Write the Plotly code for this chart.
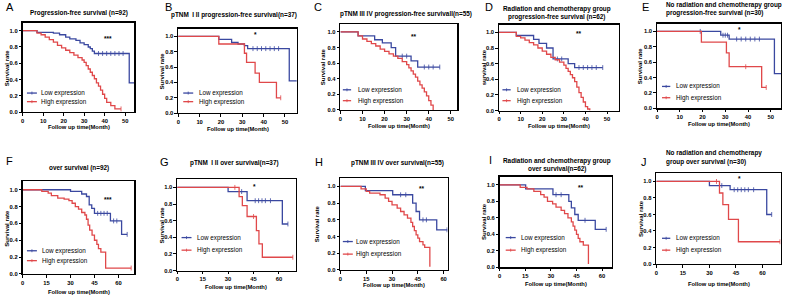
import plotly.graph_objects as go

W, H = 785, 299
BLUE = "#3a48a0"
RED = "#e0484a"
FONT = "Liberation Sans, Arial, sans-serif"

# ---------------- data ----------------
A_low_t = [0, 7, 15, 18, 21, 23, 26, 28, 30, 32, 33, 34, 35, 52, 55]
A_low_s = [1.0, 0.98, 0.97, 0.95, 0.92, 0.90, 0.88, 0.85, 0.83, 0.80, 0.78, 0.75, 0.72, 0.36, 0.36]
A_low_c = [37, 39, 41, 43, 45, 47, 49]
A_high_t = [0, 7, 9, 11, 13, 15, 17, 19, 21, 23, 25, 27, 29, 30, 31, 32, 33, 34, 35, 36, 37, 38, 39, 40, 41, 43, 45, 48]
A_high_s = [1.0, 0.97, 0.95, 0.92, 0.89, 0.86, 0.82, 0.79, 0.76, 0.73, 0.70, 0.67, 0.64, 0.61, 0.57, 0.53, 0.49, 0.45, 0.41, 0.36, 0.32, 0.27, 0.22, 0.17, 0.12, 0.08, 0.04, 0.04]
A_high_c = [48]

B_low_t = [0, 19, 25, 28, 31, 32.5, 52, 55.5]
B_low_s = [1.0, 0.96, 0.92, 0.90, 0.88, 0.84, 0.42, 0.42]
B_low_c = [35, 37, 39, 41, 43, 45, 47]
B_high_t = [0, 19, 31, 32, 36, 38, 46, 48]
B_high_s = [1.0, 0.90, 0.78, 0.66, 0.52, 0.40, 0.20, 0.20]
B_high_c = [48]

C_low_t = [0, 8, 15.5, 19, 23, 25, 32, 35, 45]
C_low_s = [1.0, 0.95, 0.90, 0.86, 0.80, 0.69, 0.63, 0.55, 0.55]
C_low_c = [28, 30, 38, 40, 42, 45]
C_high_t = [0, 8, 10, 12, 14, 16, 18, 20, 22, 24, 26, 28, 30, 31, 32, 33, 34, 35, 36, 37, 38, 39, 40, 41, 42]
C_high_s = [1.0, 0.95, 0.91, 0.88, 0.85, 0.82, 0.78, 0.75, 0.72, 0.69, 0.66, 0.62, 0.58, 0.54, 0.50, 0.46, 0.42, 0.37, 0.32, 0.28, 0.23, 0.18, 0.12, 0.06, 0.0]
C_high_c = []

D_low_t = [0, 8, 16, 18.5, 22, 25, 32, 35, 48]
D_low_s = [1.0, 0.96, 0.91, 0.86, 0.80, 0.66, 0.60, 0.55, 0.55]
D_low_c = [27, 29, 37, 39, 41, 43, 45, 48]
D_high_t = [0, 8, 10, 12, 14, 16, 18, 20, 22, 24, 26, 28, 30, 31, 32, 33, 34, 35, 36, 37, 38, 39, 40, 41, 42]
D_high_s = [1.0, 0.95, 0.93, 0.90, 0.87, 0.84, 0.80, 0.76, 0.72, 0.68, 0.65, 0.62, 0.58, 0.54, 0.50, 0.46, 0.42, 0.37, 0.30, 0.23, 0.17, 0.11, 0.05, 0.02, 0.0]
D_high_c = []

E_low_t = [0, 28, 31.7, 51.6, 54.5]
E_low_s = [1.0, 0.95, 0.90, 0.45, 0.45]
E_low_c = [19, 29, 30, 31, 35, 37, 39, 41, 43, 45]
E_high_t = [0, 19.5, 30.5, 31.7, 46, 48]
E_high_s = [1.0, 0.86, 0.72, 0.54, 0.27, 0.27]
E_high_c = [39, 48]

F_low_t = [0, 30, 37, 40, 41.7, 43.3, 45, 55, 62, 65.5]
F_low_s = [1.0, 0.98, 0.95, 0.92, 0.82, 0.78, 0.72, 0.63, 0.47, 0.47]
F_low_c = [47, 49, 51, 53, 57, 59, 65.5]
F_high_t = [0, 12, 16, 18, 22, 26, 29, 31, 33, 35, 37, 39, 40, 41, 42, 43.5, 45, 46.5, 47.5, 49, 52, 68]
F_high_s = [1.0, 0.98, 0.96, 0.93, 0.90, 0.89, 0.87, 0.84, 0.80, 0.77, 0.73, 0.70, 0.65, 0.58, 0.52, 0.46, 0.40, 0.35, 0.30, 0.26, 0.07, 0.07]
F_high_c = [68]

G_low_t = [0, 30, 41.2, 62, 65.3]
G_low_s = [1.0, 0.95, 0.84, 0.56, 0.56]
G_low_c = [38, 46, 48, 50, 52, 55, 65.3]
G_high_t = [0, 36.5, 38.4, 41.2, 46.7, 48.2, 50.2, 68.2]
G_high_s = [1.0, 0.89, 0.78, 0.65, 0.48, 0.32, 0.16, 0.16]
G_high_c = [34, 45, 68.2]

H_low_t = [0, 14.5, 30.4, 42, 44, 46, 56, 62.3]
H_low_s = [1.0, 0.95, 0.90, 0.80, 0.70, 0.60, 0.48, 0.48]
H_low_c = [35, 38, 48, 50, 62]
H_high_t = [0, 12, 15, 17, 23, 26, 28, 30, 33, 35, 37, 39, 41, 42, 43, 44, 45, 46, 48, 49, 52]
H_high_s = [1.0, 0.97, 0.94, 0.92, 0.90, 0.86, 0.82, 0.78, 0.74, 0.70, 0.66, 0.62, 0.57, 0.52, 0.47, 0.42, 0.38, 0.34, 0.30, 0.27, 0.04]
H_high_c = []

I_low_t = [0, 15.2, 31.2, 40.5, 42, 44, 46, 56, 62.4]
I_low_s = [1.0, 0.95, 0.88, 0.80, 0.72, 0.64, 0.57, 0.46, 0.46]
I_low_c = [33, 36, 50, 62.4]
I_high_t = [0, 12, 16, 20, 24, 26, 28, 31, 33, 36, 38, 40, 42, 43, 44, 45, 46, 47, 49, 52]
I_high_s = [1.0, 0.97, 0.95, 0.92, 0.88, 0.85, 0.80, 0.77, 0.73, 0.69, 0.65, 0.60, 0.55, 0.50, 0.45, 0.40, 0.35, 0.31, 0.27, 0.04]
I_high_c = []

J_low_t = [0, 30, 41.7, 62.4, 65.2]
J_low_s = [1.0, 0.95, 0.90, 0.60, 0.60]
J_low_c = [37, 44, 46, 48, 50, 52, 55, 65.2]
J_high_t = [0, 35.7, 37.6, 40.8, 46.4, 69.9]
J_high_s = [1.0, 0.86, 0.72, 0.54, 0.27, 0.27]
J_high_c = [34, 69.9]

top_xticks = [0, 10, 20, 30, 40, 50]
bot_xticks = [0, 15, 30, 45, 60]
y_ticks = [0.0, 0.2, 0.4, 0.6, 0.8, 1.0]
y_ticklabels = ["0.0", "0.2", "0.4", "0.6", "0.8", "1.0"]

letters = ["A", "B", "C", "D", "E", "F", "G", "H", "I", "J"]
titles = [
    ["Progression-free survival (n=92)"],
    ["pTNM  I II progression-free survival(n=37)"],
    ["pTNM III IV progression-free survivall(n=55)"],
    ["Radiation and chemotherapy group", "progression-free survival (n=62)"],
    ["No radiation and chemotherapy group", "progression-free survival (n=30)"],
    ["over survival (n=92)"],
    ["pTNM  I II over survival(n=37)"],
    ["pTNM III IV over survival(n=55)"],
    ["Radiation and chemotherapy group", "over survival(n=62)"],
    ["No radiation and chemotherapy", "group over survival (n=30)"],
]
y_titles = ["Survival rate"] * 10
y_titles[3] = "survival rate"
x_title = "Follow up time(Month)"
legend_labels = ["Low expression", "High expression"]
pvalues = ["***", "*", "**", "**", "*", "***", "*", "**", "**", "*"]
pvalue_pos = [(41.5, 0.90), (36, 1.02), (33.4, 0.94), (37.2, 0.99), (36.2, 1.03),
              (53.7, 0.89), (45.6, 1.01), (47.5, 0.98), (47.4, 0.97), (46.9, 1.03)]

series = [
    (A_low_t, A_low_s, A_low_c, A_high_t, A_high_s, A_high_c),
    (B_low_t, B_low_s, B_low_c, B_high_t, B_high_s, B_high_c),
    (C_low_t, C_low_s, C_low_c, C_high_t, C_high_s, C_high_c),
    (D_low_t, D_low_s, D_low_c, D_high_t, D_high_s, D_high_c),
    (E_low_t, E_low_s, E_low_c, E_high_t, E_high_s, E_high_c),
    (F_low_t, F_low_s, F_low_c, F_high_t, F_high_s, F_high_c),
    (G_low_t, G_low_s, G_low_c, G_high_t, G_high_s, G_high_c),
    (H_low_t, H_low_s, H_low_c, H_high_t, H_high_s, H_high_c),
    (I_low_t, I_low_s, I_low_c, I_high_t, I_high_s, I_high_c),
    (J_low_t, J_low_s, J_low_c, J_high_t, J_high_s, J_high_c),
]

# ---------------- layout geometry (pixels) ----------------
# L, R, B(y of 0.0), Y1(y of 1.0), xmax
boxes = [
    (20.7, 132.7, 113.3, 31.0, 54.5),
    (176.7, 295.7, 114.3, 36.7, 55.6),
    (339.3, 456.6, 111.0, 32.3, 53.0),
    (498.3, 618.3, 111.7, 32.7, 55.4),
    (656.7, 781.0, 109.3, 31.7, 54.5),
    (20.7, 132.7, 276.7, 191.7, 70.0),
    (175.7, 294.3, 273.3, 189.3, 69.8),
    (339.3, 446.7, 272.7, 188.3, 62.3),
    (499.0, 611.7, 270.0, 186.7, 65.9),
    (656.0, 780.7, 266.7, 183.3, 70.3),
]
# title: (x, [y per line], anchor)
title_pos = [
    (77, [13.3], "center"), (233, [15], "center"), (405, [14.3], "center"),
    (556.7, [9.5, 17], "center"), (663.3, [5.5, 13.5], "left"),
    (77, [169.3], "center"), (233.3, [165], "center"), (396.7, [165], "center"),
    (556.7, [162.3, 170.3], "center"), (663.3, [155, 163.3], "left"),
]
letter_pos = [(8, 7), (167, 7), (317, 7), (488, 7), (645, 7),
              (8, 162.7), (163.3, 164), (318, 164), (490, 161.7), (643.3, 163.3)]
ytitle_x = [5, 160, 322, 483, 640, 5, 160, 316, 483.3, 640]
xtitle_y = [128.3, 130, 127.7, 127.7, 125, 294.5, 290, 288.3, 286.7, 286.7]
# legend: (sample x0, sample x1, text x, y low, y high)
legend_pos = [
    (25, 35, 37, 94, 102.7), (181.7, 191.7, 195, 94, 102.7),
    (341.7, 350, 355, 90.7, 101.7), (501.7, 510, 514, 90.7, 101.7),
    (661.7, 670, 673.3, 87.3, 98.7), (25, 35, 38, 253.3, 263.3),
    (180, 190, 193.3, 240, 252.7), (341.7, 351.7, 353.3, 244, 256.7),
    (505, 515, 518.3, 240, 252.7), (661.7, 670, 673.3, 240.7, 252.7),
]

TITLE_SIZE = 6.4
TICK_SIZE = 5.8
YTITLE_SIZE = 6.0
XTITLE_SIZE = 5.8
LEGEND_SIZE = 6.3
LETTER_SIZE = 11


def px(x):
    return x / W


def py(y):
    return 1 - y / H


def step_at(ts, ss, c):
    v = ss[0]
    for t, s in zip(ts, ss):
        if t <= c:
            v = s
    return v


fig = go.Figure()
annotations = []
shapes = []
layout_axes = {}

for i in range(10):
    n = i + 1
    xa = "x" if n == 1 else f"x{n}"
    ya = "y" if n == 1 else f"y{n}"
    L, R, B, Y1, xmax = boxes[i]
    ppu = B - Y1
    T = B - 1.1 * ppu
    xticks = top_xticks if i < 5 else bot_xticks

    layout_axes["xaxis" if n == 1 else f"xaxis{n}"] = dict(
        domain=[px(L), px(R)], range=[0, xmax], anchor=ya,
        showline=True, mirror=True, linecolor="black", linewidth=1.3,
        ticks="outside", ticklen=2.5, tickwidth=1, tickcolor="black",
        tickvals=xticks, ticktext=[str(v) for v in xticks],
        tickfont=dict(family=FONT, size=TICK_SIZE, color="black", weight="bold"),
        showgrid=False, zeroline=False, fixedrange=True,
    )
    layout_axes["yaxis" if n == 1 else f"yaxis{n}"] = dict(
        domain=[py(B), py(T)], range=[0, 1.1], anchor=xa,
        showline=True, mirror=True, linecolor="black", linewidth=1.3,
        ticks="outside", ticklen=2.5, tickwidth=1, tickcolor="black",
        tickvals=y_ticks, ticktext=y_ticklabels,
        tickfont=dict(family=FONT, size=TICK_SIZE, color="black", weight="bold"),
        showgrid=False, zeroline=False, fixedrange=True,
    )

    lt, ls, lc, ht, hs, hc = series[i]
    for (t, s, c, col) in ((lt, ls, lc, BLUE), (ht, hs, hc, RED)):
        fig.add_trace(go.Scatter(
            x=t, y=s, mode="lines", line=dict(color=col, width=1.3, shape="hv"),
            xaxis=xa, yaxis=ya, showlegend=False, hoverinfo="skip"))
        if c:
            fig.add_trace(go.Scatter(
                x=c, y=[step_at(t, s, v) for v in c], mode="markers",
                marker=dict(symbol="line-ns", size=3.5, line=dict(width=0.8, color=col)),
                xaxis=xa, yaxis=ya, showlegend=False, hoverinfo="skip"))

    # p-value stars
    pxv, pyv = pvalue_pos[i]
    annotations.append(dict(x=pxv, y=pyv, xref=xa, yref=ya, text=f"<b>{pvalues[i]}</b>",
                            showarrow=False, font=dict(family=FONT, size=6.5, color="black")))

    # titles
    tx, tys, anc = title_pos[i]
    for line, ty in zip(titles[i], tys):
        annotations.append(dict(x=px(tx), y=py(ty), xref="paper", yref="paper",
                                text=f"<b>{line}</b>", showarrow=False, xanchor=anc,
                                yanchor="middle",
                                font=dict(family=FONT, size=TITLE_SIZE, color="black")))
    # letter
    lx, ly = letter_pos[i]
    annotations.append(dict(x=px(lx), y=py(ly), xref="paper", yref="paper", text=letters[i],
                            showarrow=False, xanchor="center", yanchor="middle",
                            font=dict(family=FONT, size=LETTER_SIZE, color="black")))
    # axis titles
    annotations.append(dict(x=px(ytitle_x[i]), y=py((B + T) / 2), xref="paper", yref="paper",
                            text=f"<b>{y_titles[i]}</b>", textangle=-90, showarrow=False,
                            xanchor="center", yanchor="middle",
                            font=dict(family=FONT, size=YTITLE_SIZE, color="black")))
    annotations.append(dict(x=px((L + R) / 2), y=py(xtitle_y[i]), xref="paper", yref="paper",
                            text=f"<b>{x_title}</b>", showarrow=False,
                            xanchor="center", yanchor="middle",
                            font=dict(family=FONT, size=XTITLE_SIZE, color="black")))
    # legend
    sx0, sx1, tx2, yl, yh = legend_pos[i]
    for lab, yy, col in ((legend_labels[0], yl, BLUE), (legend_labels[1], yh, RED)):
        shapes.append(dict(type="line", xref="paper", yref="paper", x0=px(sx0), x1=px(sx1),
                           y0=py(yy), y1=py(yy), line=dict(color=col, width=1.3)))
        mx = (sx0 + sx1) / 2
        shapes.append(dict(type="line", xref="paper", yref="paper", x0=px(mx), x1=px(mx),
                           y0=py(yy - 1.5), y1=py(yy + 1.5), line=dict(color=col, width=0.8)))
        annotations.append(dict(x=px(tx2), y=py(yy), xref="paper", yref="paper", text=lab,
                                showarrow=False, xanchor="left", yanchor="middle",
                                font=dict(family=FONT, size=LEGEND_SIZE, color="black")))

fig.update_layout(
    width=W, height=H, margin=dict(l=0, r=0, t=0, b=0),
    paper_bgcolor="white", plot_bgcolor="white",
    annotations=annotations, shapes=shapes, showlegend=False,
    **layout_axes,
)

fig.write_html(
    "out.html",
    config={"displayModeBar": False, "staticPlot": True},
    post_script="document.body.style.margin='0';document.body.style.overflow='hidden';",
)
